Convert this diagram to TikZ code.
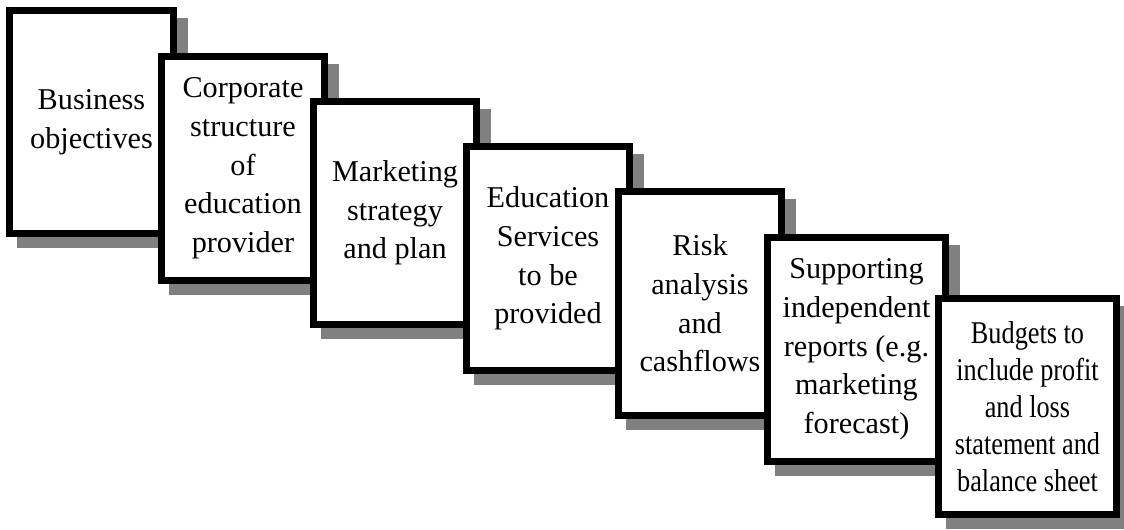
\documentclass[tikz,border=0pt]{standalone}
\usepackage{fontspec}
\setmainfont{Liberation Serif}
\newfontfamily\narrowserif[FakeStretch=0.83]{Liberation Serif}
\usepackage{tikz}
\usetikzlibrary{shadows}
\definecolor{shadowgray}{gray}{0.5}

\begin{document}
\begin{tikzpicture}[x=0.025cm, y=-0.025cm,
    stage/.style={draw=black, fill=white, line width=0.175cm, inner sep=0pt,
        minimum width=4.075cm, minimum height=5.575cm, align=center,
        font=\fontsize{21.5}{27.5}\selectfont,
        drop shadow={shadow xshift=0.275cm, shadow yshift=-0.275cm,
            fill=shadowgray, draw=shadowgray, opacity=1}},
    wide stage/.style={stage, minimum width=4.45cm}]
    \useasboundingbox (0,0) rectangle (1124,529);

    % stages of the plan, each one stepping down to the right
    \node[stage] (objectives) at (91.5,122) {Business\\objectives};
    \node[stage] (structure) at (243,168.5) {Corporate\\structure\\of\\education\\provider};
    \node[stage] (marketing) at (395,213) {Marketing\\strategy\\and plan};
    \node[stage] (services) at (548,258.5) {Education\\Services\\to be\\provided};
    \node[stage] (risk) at (700,303.5) {Risk\\analysis\\and\\cashflows};
    \node[wide stage] (reports) at (856.5,349.5) {Supporting\\independent\\reports (e.g.\\marketing\\forecast)};
    \node[wide stage, minimum height=5.4cm, font=\narrowserif\fontsize{22.5}{26.3}\selectfont]
        (budgets) at (1027.5,406.5) {Budgets to\\include profit\\and loss\\statement and\\balance sheet};
\end{tikzpicture}
\end{document}
